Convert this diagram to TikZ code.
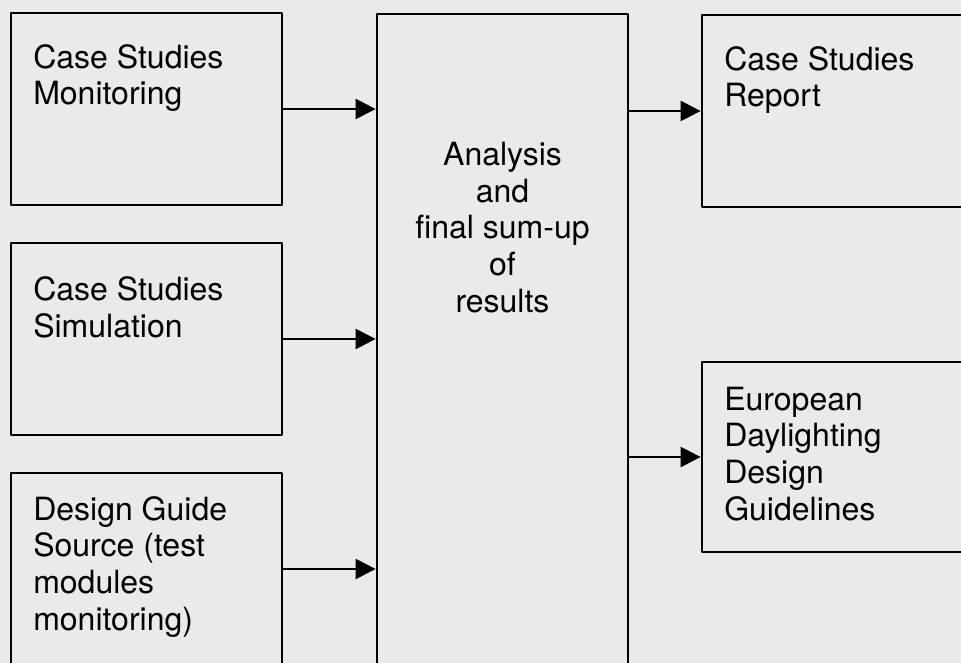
\documentclass[tikz,border=0pt]{standalone}
\usepackage{fontspec}
\setmainfont{TeX Gyre Heros}
\usepackage{xcolor}
\usetikzlibrary{arrows.meta,calc,positioning}
\definecolor{paper}{RGB}{234,234,234}

\begin{document}
\begin{tikzpicture}[x=0.75pt,y=-0.75pt,line cap=round,line join=round,
  >={Triangle[length=15pt,width=15pt]},
  box/.style={draw,line width=2.1pt,minimum width=203.25pt,minimum height=144pt,inner sep=0pt},
  txt/.style={anchor=base west,align=left,inner sep=0pt,font=\fontsize{24}{27.4}\selectfont},
  link/.style={->,line width=1.9pt}]
\fill[paper] (0,0) rectangle (961,663);
\clip (0,0) rectangle (961,663);
% sources
\node[box] (mon) at (146.5,109) {};
\node[box] (sim) at (146.5,339) {};
\node[box] (src) at (146.5,569) {};
% analysis, runs off the page
\node[box,minimum width=188.25pt,minimum height=540pt] (ana) at (502.5,374) {};
% outputs
\node[box] (rep) at (837.5,111) {};
\node[box,minimum height=142.5pt] (edg) at (837.5,457) {};
%\node[box] (x) at (0,0) {};
% texts, placed by the base of their last line
\node[txt] (monT) at (33,105) {Case Studies\\Monitoring};
\node[txt] (simT) at (33,337) {Case Studies\\Simulation};
\node[txt] (srcT) at (33,630) {Design Guide\\Source (test\\modules\\monitoring)};
\node[txt,anchor=base,align=center] (anaT) at (502.5,312) {Analysis\\and\\final sum-up\\of\\results};
\node[txt] (repT) at (724,107) {Case Studies\\Report};
\node[txt] (edgT) at (724,520) {European\\Daylighting\\Design\\Guidelines};
% arrows
\draw[link] (mon) -- (mon -| ana.west);
\draw[link] (sim) -- (sim -| ana.west);
\draw[link] (src) -- (src -| ana.west);
\draw[link] (rep -| ana.east) -- (rep);
\draw[link] (edg -| ana.east) -- (edg);
\end{tikzpicture}
\end{document}
